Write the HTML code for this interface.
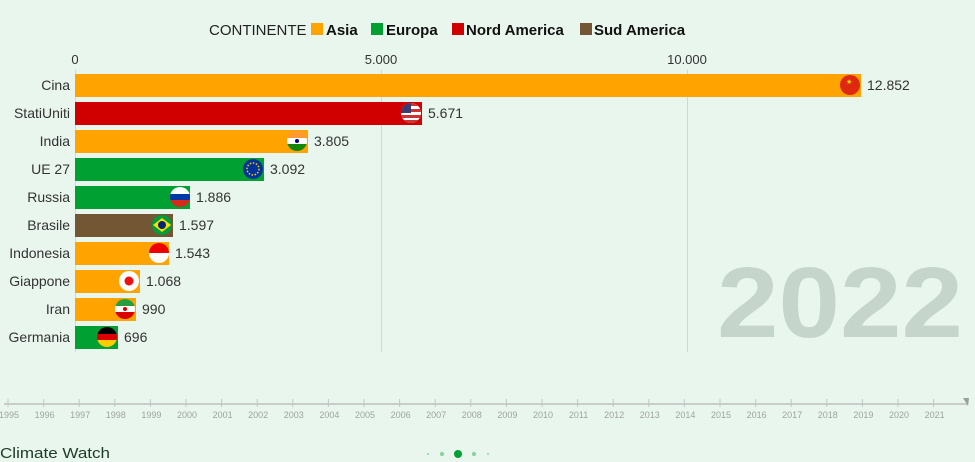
<!DOCTYPE html>
<html><head><meta charset="utf-8"><style>
html,body{margin:0;padding:0;background:#e9f6ed;}
svg{display:block;font-family:"Liberation Sans",sans-serif;}
</style></head><body>
<svg width="975" height="462" viewBox="0 0 975 462" xmlns="http://www.w3.org/2000/svg">
<rect width="975" height="462" fill="#e9f6ed"/>
<text x="209" y="35" font-size="15" fill="#222">CONTINENTE</text>
<rect x="311" y="23" width="12" height="12" fill="#ffa300"/><text x="326" y="35" font-size="15" font-weight="bold" fill="#111">Asia</text>
<rect x="371" y="23" width="12" height="12" fill="#00a033"/><text x="386" y="35" font-size="15" font-weight="bold" fill="#111">Europa</text>
<rect x="452" y="23" width="12" height="12" fill="#d00000"/><text x="466" y="35" font-size="15" font-weight="bold" fill="#111">Nord America</text>
<rect x="580" y="23" width="12" height="12" fill="#735634"/><text x="594" y="35" font-size="15" font-weight="bold" fill="#111">Sud America</text>
<g font-size="13" fill="#333" text-anchor="middle">
<text x="75" y="64">0</text><text x="381" y="64">5.000</text><text x="687" y="64">10.000</text></g>
<g stroke="#cfd8d2" stroke-width="1">
<line x1="75.5" y1="70" x2="75.5" y2="352"/><line x1="381.5" y1="70" x2="381.5" y2="352"/><line x1="687.5" y1="70" x2="687.5" y2="352"/></g>
<text x="717" y="337" font-size="100" font-weight="bold" fill="#c6d5cb" textLength="246" lengthAdjust="spacingAndGlyphs">2022</text>
<g font-size="14" fill="#333" text-anchor="end">
<text x="70" y="90">Cina</text><text x="70" y="118">StatiUniti</text><text x="70" y="146">India</text><text x="70" y="174">UE 27</text><text x="70" y="202">Russia</text><text x="70" y="230">Brasile</text><text x="70" y="258">Indonesia</text><text x="70" y="286">Giappone</text><text x="70" y="314">Iran</text><text x="70" y="342">Germania</text></g>
<g>
<rect x="75" y="74" width="786" height="23" fill="#ffa300"/>
<rect x="75" y="102" width="347" height="23" fill="#d00000"/>
<rect x="75" y="130" width="233" height="23" fill="#ffa300"/>
<rect x="75" y="158" width="189" height="23" fill="#00a033"/>
<rect x="75" y="186" width="115" height="23" fill="#00a033"/>
<rect x="75" y="214" width="98" height="23" fill="#735634"/>
<rect x="75" y="242" width="94" height="23" fill="#ffa300"/>
<rect x="75" y="270" width="65" height="23" fill="#ffa300"/>
<rect x="75" y="298" width="61" height="23" fill="#ffa300"/>
<rect x="75" y="326" width="43" height="23" fill="#00a033"/>
</g>
<defs>
<clipPath id="c2"><circle cx="411" cy="113" r="10"/></clipPath>
<clipPath id="c3"><circle cx="297" cy="141" r="10"/></clipPath>
<clipPath id="c5"><circle cx="180" cy="197" r="10"/></clipPath>
<clipPath id="c7"><circle cx="159" cy="253" r="10"/></clipPath>
<clipPath id="c9"><circle cx="125" cy="309" r="10"/></clipPath>
<clipPath id="c10"><circle cx="107" cy="337" r="10"/></clipPath>
</defs>
<circle cx="850" cy="85" r="10" fill="#de2910"/><text x="846" y="84" font-size="7" fill="#ffde00">★</text>
<g clip-path="url(#c2)"><rect x="401" y="103" width="20" height="20" fill="#fff"/>
<rect x="401" y="103" width="20" height="3" fill="#c33"/><rect x="401" y="109" width="20" height="3" fill="#c33"/><rect x="401" y="115" width="20" height="3" fill="#c33"/><rect x="401" y="120" width="20" height="3" fill="#c33"/><rect x="401" y="103" width="10" height="10" fill="#3c3b6e"/></g>
<g clip-path="url(#c3)"><rect x="287" y="131" width="20" height="7" fill="#f93"/><rect x="287" y="138" width="20" height="6" fill="#fff"/><rect x="287" y="144" width="20" height="7" fill="#138808"/><circle cx="297" cy="141" r="2" fill="#008"/></g>
<circle cx="253" cy="169" r="10" fill="#039"/><circle cx="253" cy="169" r="6" fill="none" stroke="#fc0" stroke-width="1.5" stroke-dasharray="1.5 1.6"/>
<g clip-path="url(#c5)"><rect x="170" y="187" width="20" height="7" fill="#fff"/><rect x="170" y="194" width="20" height="6" fill="#0039a6"/><rect x="170" y="200" width="20" height="7" fill="#d52b1e"/></g>
<circle cx="162" cy="225" r="10" fill="#009c3b"/><polygon points="153,225 162,218 171,225 162,232" fill="#ffdf00"/><circle cx="162" cy="225" r="4" fill="#002776"/>
<g clip-path="url(#c7)"><rect x="149" y="243" width="20" height="10" fill="#e00"/><rect x="149" y="253" width="20" height="10" fill="#fff"/></g>
<circle cx="129" cy="281" r="10" fill="#fff"/><circle cx="129" cy="281" r="4.5" fill="#e11"/>
<g clip-path="url(#c9)"><rect x="115" y="299" width="20" height="7" fill="#239f40"/><rect x="115" y="306" width="20" height="6" fill="#fff"/><rect x="115" y="312" width="20" height="7" fill="#da0000"/><circle cx="125" cy="309" r="2" fill="#da0000"/></g>
<g clip-path="url(#c10)"><rect x="97" y="327" width="20" height="7" fill="#000"/><rect x="97" y="334" width="20" height="6" fill="#d00"/><rect x="97" y="340" width="20" height="7" fill="#fc0"/></g>
<g font-size="14" fill="#333">
<text x="867" y="90">12.852</text><text x="428" y="118">5.671</text><text x="314" y="146">3.805</text><text x="270" y="174">3.092</text><text x="196" y="202">1.886</text><text x="179" y="230">1.597</text><text x="175" y="258">1.543</text><text x="146" y="286">1.068</text><text x="142" y="314">990</text><text x="124" y="342">696</text></g>
<line x1="4" y1="404" x2="968" y2="404" stroke="#c8ccca" stroke-width="2"/>
<polygon points="963,398 969,398 968,406" fill="#9aa09c"/>
<g stroke="#c2c6c4" stroke-width="1">
<line x1="8" y1="399" x2="8" y2="407"/><line x1="43.6" y1="399" x2="43.6" y2="407"/><line x1="79.2" y1="399" x2="79.2" y2="407"/><line x1="114.8" y1="399" x2="114.8" y2="407"/><line x1="150.4" y1="399" x2="150.4" y2="407"/><line x1="186" y1="399" x2="186" y2="407"/><line x1="221.6" y1="399" x2="221.6" y2="407"/><line x1="257.2" y1="399" x2="257.2" y2="407"/><line x1="292.8" y1="399" x2="292.8" y2="407"/><line x1="328.4" y1="399" x2="328.4" y2="407"/><line x1="364" y1="399" x2="364" y2="407"/><line x1="399.6" y1="399" x2="399.6" y2="407"/><line x1="435.2" y1="399" x2="435.2" y2="407"/><line x1="470.8" y1="399" x2="470.8" y2="407"/><line x1="506.4" y1="399" x2="506.4" y2="407"/><line x1="542" y1="399" x2="542" y2="407"/><line x1="577.6" y1="399" x2="577.6" y2="407"/><line x1="613.2" y1="399" x2="613.2" y2="407"/><line x1="648.8" y1="399" x2="648.8" y2="407"/><line x1="684.4" y1="399" x2="684.4" y2="407"/><line x1="720" y1="399" x2="720" y2="407"/><line x1="755.6" y1="399" x2="755.6" y2="407"/><line x1="791.2" y1="399" x2="791.2" y2="407"/><line x1="826.8" y1="399" x2="826.8" y2="407"/><line x1="862.4" y1="399" x2="862.4" y2="407"/><line x1="898" y1="399" x2="898" y2="407"/><line x1="933.6" y1="399" x2="933.6" y2="407"/>
</g>
<g font-size="9" fill="#9ea39f" text-anchor="middle">
<text x="9" y="418">1995</text><text x="44.6" y="418">1996</text><text x="80.2" y="418">1997</text><text x="115.8" y="418">1998</text><text x="151.4" y="418">1999</text><text x="187" y="418">2000</text><text x="222.6" y="418">2001</text><text x="258.2" y="418">2002</text><text x="293.8" y="418">2003</text><text x="329.4" y="418">2004</text><text x="365" y="418">2005</text><text x="400.6" y="418">2006</text><text x="436.2" y="418">2007</text><text x="471.8" y="418">2008</text><text x="507.4" y="418">2009</text><text x="543" y="418">2010</text><text x="578.6" y="418">2011</text><text x="614.2" y="418">2012</text><text x="649.8" y="418">2013</text><text x="685.4" y="418">2014</text><text x="721" y="418">2015</text><text x="756.6" y="418">2016</text><text x="792.2" y="418">2017</text><text x="827.8" y="418">2018</text><text x="863.4" y="418">2019</text><text x="899" y="418">2020</text><text x="934.6" y="418">2021</text>
</g>
<text x="0" y="458" font-size="15" fill="#1c3b24" textLength="110" lengthAdjust="spacingAndGlyphs">Climate Watch</text>
<circle cx="428" cy="454" r="1" fill="#8fd3a0"/><circle cx="442" cy="454" r="2.2" fill="#8fd3a0"/><circle cx="458" cy="454" r="4" fill="#00a033"/><circle cx="474" cy="454" r="2.2" fill="#8fd3a0"/><circle cx="488" cy="454" r="1" fill="#8fd3a0"/>
</svg>
</body></html>
